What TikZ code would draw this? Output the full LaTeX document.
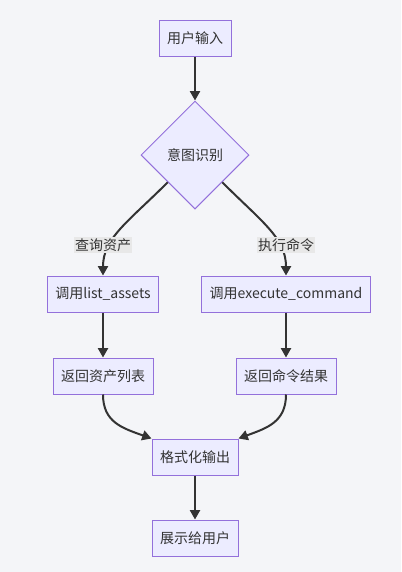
\documentclass[tikz,border=0pt]{standalone}
\usepackage{fontspec}
\setmainfont{Noto Sans CJK SC}
\usetikzlibrary{arrows.meta,shapes.geometric}

\definecolor{bgcol}{HTML}{F4F5F8}
\definecolor{nodefill}{HTML}{ECECFF}
\definecolor{nodeborder}{HTML}{9370DB}
\definecolor{ink}{HTML}{333333}
\definecolor{labelbg}{HTML}{E8E8E8}

\begin{document}
\begin{tikzpicture}[x=0.75pt, y=-0.75pt,
        box/.style={rectangle, fill=nodefill, draw=nodeborder, line width=0.75pt, minimum height=27pt, inner xsep=6pt, text=ink, font=\fontsize{10.5}{12}\selectfont},
        choice/.style={diamond, aspect=1, fill=nodefill, draw=nodeborder, line width=0.75pt, minimum size=81pt, inner sep=0pt, text=ink, font=\fontsize{10.5}{12}\selectfont},
        flow/.style={-{Triangle[length=7pt,width=7.5pt]}, line width=1.5pt, draw=ink},
        elabel/.style={fill=labelbg, inner sep=1pt, text=ink, font=\fontsize{10.5}{12}\selectfont}]

        % sfondo e bordi della pagina
        \fill[bgcol] (0,0) rectangle (401,572);
        \useasboundingbox (0,0) rectangle (401,572);

        % =========================================
        % === INGRESSO E DECISIONE ===
        % =========================================
        \node[box] (input) at (195, 38) {用户输入};
        \node[choice] (intent) at (195, 155) {意图识别};

        \draw[flow] (input) -- (intent);

        % =========================================
        % === RAMI (sinistra e destra) ===
        % =========================================
        \node[box] (callassets) at (103, 294) {调用list\_assets};
        \node[box] (callcmd) at (286, 294) {调用execute\_command};

        \node[box] (retassets) at (103, 376) {返回资产列表};
        \node[box] (retcmd) at (286, 376) {返回命令结果};

        % Frecce curve dal rombo, con etichette
        \draw[flow] (intent.south west) .. controls (128, 222) and (103, 238) .. (callassets.north);
        \draw[flow] (intent.south east) .. controls (262, 222) and (286, 238) .. (callcmd.north);
        \node[elabel] (lblassets) at (103, 245) {查询资产};
        \node[elabel] (lblcmd) at (286, 245) {执行命令};

        \draw[flow] (callassets) -- (retassets);
        \draw[flow] (callcmd) -- (retcmd);

        % =========================================
        % === USCITA ===
        % =========================================
        \node[box] (format) at (195, 457) {格式化输出};
        \node[box] (show) at (195, 538) {展示给用户};

        % Frecce che si ricongiungono
        \draw[flow] (retassets.south) .. controls (103, 422) and (122, 428) .. (format.north west);
        \draw[flow] (retcmd.south) .. controls (286, 422) and (267, 428) .. (format.north east);

        \draw[flow] (format) -- (show);

    \end{tikzpicture}
\end{document}
